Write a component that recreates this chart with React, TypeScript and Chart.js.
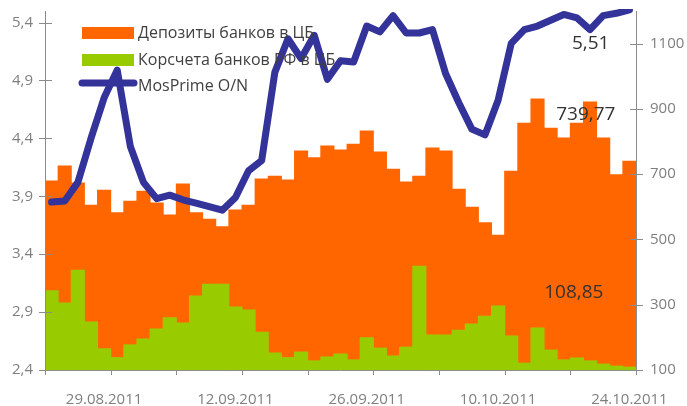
import React, { useEffect, useRef } from 'react';
import { Chart, registerables } from 'chart.js';

Chart.register(...registerables);

// Business days (categories)
const categories: string[] = [
  '23.08.2011', '24.08.2011', '25.08.2011', '26.08.2011', '29.08.2011',
  '30.08.2011', '31.08.2011', '01.09.2011', '02.09.2011', '05.09.2011',
  '06.09.2011', '07.09.2011', '08.09.2011', '09.09.2011', '12.09.2011',
  '13.09.2011', '14.09.2011', '15.09.2011', '16.09.2011', '19.09.2011',
  '20.09.2011', '21.09.2011', '22.09.2011', '23.09.2011', '26.09.2011',
  '27.09.2011', '28.09.2011', '29.09.2011', '30.09.2011', '03.10.2011',
  '04.10.2011', '05.10.2011', '06.10.2011', '07.10.2011', '10.10.2011',
  '11.10.2011', '12.10.2011', '13.10.2011', '14.10.2011', '17.10.2011',
  '18.10.2011', '19.10.2011', '20.10.2011', '21.10.2011', '24.10.2011',
];

const xTickLabels: string[] = ['29.08.2011', '12.09.2011', '26.09.2011', '10.10.2011', '24.10.2011'];

const seriesNames: string[] = ['Депозиты банков в ЦБ', 'Корсчета банков РФ в ЦБ', 'MosPrime O/N'];

// Deposits of banks at the CB (right axis)
const deposits: number[] = [
  679, 725, 673, 605, 651, 582, 617, 648, 612, 575,
  670, 582, 562, 539, 590, 605, 685, 694, 682, 771,
  750, 786, 774, 792, 832, 768, 715, 676, 694, 780,
  771, 654, 599, 551, 513, 709, 856, 930, 841, 811,
  856, 921, 811, 698, 739.77,
];

// Correspondent accounts (right axis)
const corrAccounts: number[] = [
  343, 305, 406, 247, 165, 138, 177, 195, 226, 260,
  244, 327, 363, 363, 293, 284, 216, 152, 138, 155,
  128, 140, 149, 131, 199, 167, 143, 170, 418, 207,
  207, 222, 241, 265, 296, 204, 121, 229, 161, 131,
  137, 128, 118, 112, 108.85,
];

// MosPrime O/N (left axis)
const mosPrime: number[] = [
  3.85, 3.86, 4.02, 4.40, 4.75, 4.99, 4.33, 4.02, 3.88, 3.91,
  3.87, 3.84, 3.81, 3.78, 3.89, 4.12, 4.21, 4.97, 5.26, 5.09,
  5.29, 4.91, 5.07, 5.06, 5.37, 5.32, 5.46, 5.31, 5.31, 5.34,
  4.96, 4.71, 4.48, 4.43, 4.73, 5.22, 5.34, 5.37, 5.42, 5.47,
  5.44, 5.34, 5.46, 5.48, 5.51,
];

const leftTicks: number[] = [2.4, 2.9, 3.4, 3.9, 4.4, 4.9, 5.4];
const rightTicks: number[] = [100, 300, 500, 700, 900, 1100];

const ORANGE = '#FF6600';
const GREEN = '#99CC00';
const NAVY = '#333399';
const AXIS = '#8c8c8c';
const TICK_TEXT = '#7f7f7f';
const FONT = '"Open Sans", "Noto Sans", sans-serif';

const fmt = (v: number, d: number) => v.toFixed(d).replace('.', ',');

const zeroPad = (s: any) => {
  s.paddingTop = 0;
  s.paddingBottom = 0;
  s.paddingLeft = 0;
  s.paddingRight = 0;
};

const decorPlugin = {
  id: 'decor',
  afterDraw(chart: any) {
    const { ctx, chartArea: ca, scales } = chart;
    const xs = scales.x;
    const yl = scales.yL;
    const yr = scales.yR;
    ctx.save();

    // axis lines
    ctx.strokeStyle = AXIS;
    ctx.lineWidth = 1;
    ctx.beginPath();
    ctx.moveTo(Math.round(ca.left) + 0.5, ca.top);
    ctx.lineTo(Math.round(ca.left) + 0.5, ca.bottom + 1);
    ctx.moveTo(Math.round(ca.right) + 0.5, ca.top);
    ctx.lineTo(Math.round(ca.right) + 0.5, ca.bottom + 1);
    ctx.moveTo(ca.left, Math.round(ca.bottom) + 0.5);
    ctx.lineTo(ca.right, Math.round(ca.bottom) + 0.5);
    // left ticks (crossing)
    leftTicks.forEach((v) => {
      const y = Math.round(yl.getPixelForValue(v)) + 0.5;
      ctx.moveTo(ca.left - 6, y);
      ctx.lineTo(ca.left + 7, y);
    });
    rightTicks.forEach((v) => {
      const y = Math.round(yr.getPixelForValue(v)) + 0.5;
      ctx.moveTo(ca.right - 6, y);
      ctx.lineTo(ca.right + 7, y);
    });
    // x ticks at category boundaries, every 5 categories
    const n = categories.length;
    const step = ca.width / n;
    for (let k = 0; k <= n; k += 5) {
      const x = Math.round(ca.left + k * step) + 0.5;
      ctx.moveTo(x, ca.bottom);
      ctx.lineTo(x, ca.bottom + 5);
    }
    ctx.stroke();

    // data labels for last points
    const li = n - 1;
    const xl = xs.getPixelForValue(li);
    ctx.fillStyle = '#333333';
    ctx.font = `19px ${FONT}`;
    ctx.textAlign = 'right';
    ctx.textBaseline = 'middle';
    ctx.fillText(fmt(mosPrime[li], 2), xl - 20, yl.getPixelForValue(mosPrime[li]) + 34);
    ctx.fillText(fmt(deposits[li], 2), xl - 14, yr.getPixelForValue(deposits[li]) - 47);
    ctx.fillText(fmt(corrAccounts[li], 2), xl - 26, yr.getPixelForValue(corrAccounts[li]) - 75);

    // legend
    const lx = 82;
    const rows = [33, 60, 86];
    ctx.fillStyle = ORANGE;
    ctx.fillRect(lx, rows[0] - 6, 52, 12);
    ctx.fillStyle = GREEN;
    ctx.fillRect(lx, rows[1] - 6, 52, 12);
    ctx.strokeStyle = NAVY;
    ctx.lineWidth = 7;
    ctx.lineCap = 'round';
    ctx.beginPath();
    ctx.moveTo(lx, rows[2] - 3);
    ctx.lineTo(lx + 52, rows[2] - 3);
    ctx.stroke();
    ctx.fillStyle = '#404040';
    ctx.font = `16px ${FONT}`;
    ctx.textAlign = 'left';
    ctx.textBaseline = 'middle';
    seriesNames.forEach((name, i) => {
      ctx.fillText(name, 138, rows[i]);
    });
    ctx.restore();
  },
};

export default function App() {
  const ref = useRef<HTMLCanvasElement | null>(null);

  useEffect(() => {
    if (!ref.current) return;
    const tickFont = { family: FONT, size: 15 };
    const chart = new Chart(ref.current, {
      type: 'bar',
      data: {
        labels: categories,
        datasets: [
          {
            type: 'line',
            label: seriesNames[2],
            data: mosPrime,
            yAxisID: 'yL',
            borderColor: NAVY,
            backgroundColor: NAVY,
            borderWidth: 7,
            pointRadius: 0,
            pointHoverRadius: 0,
            tension: 0,
            borderJoinStyle: 'round',
            borderCapStyle: 'round',
            order: 0,
            clip: { left: 10, right: 10, top: 2, bottom: 10 },
          } as any,
          {
            type: 'bar',
            label: seriesNames[1],
            data: corrAccounts,
            yAxisID: 'yR',
            backgroundColor: GREEN,
            grouped: false,
            barPercentage: 1,
            categoryPercentage: 1,
            inflateAmount: 0.5,
            order: 1,
          } as any,
          {
            type: 'bar',
            label: seriesNames[0],
            data: deposits,
            yAxisID: 'yR',
            backgroundColor: ORANGE,
            grouped: false,
            barPercentage: 1,
            categoryPercentage: 1,
            inflateAmount: 0.5,
            order: 2,
          } as any,
        ],
      },
      options: {
        animation: false,
        responsive: false,
        maintainAspectRatio: false,
        layout: { padding: { top: 11, left: 0, right: 0, bottom: 0 } },
        plugins: {
          legend: { display: false },
          tooltip: { enabled: false },
        },
        scales: {
          x: {
            type: 'category',
            offset: true,
            grid: { display: false, drawTicks: false },
            border: { display: false },
            ticks: {
              autoSkip: false,
              maxRotation: 0,
              minRotation: 0,
              padding: 21,
              color: TICK_TEXT,
              font: tickFont,
              callback: (_v: any, idx: number) =>
                xTickLabels.includes(categories[idx]) ? categories[idx] : '',
            },
            afterFit: (s: any) => {
              s.height = 36;
              zeroPad(s);
            },
          },
          yL: {
            position: 'left',
            min: 2.4,
            max: 5.5,
            grid: { display: false, drawTicks: false },
            border: { display: false },
            afterBuildTicks: (s: any) => {
              s.ticks = leftTicks.map((v) => ({ value: v }));
            },
            ticks: {
              padding: 12,
              color: TICK_TEXT,
              font: tickFont,
              callback: (v: any) => fmt(Number(v), 1),
            },
            afterFit: (s: any) => {
              s.width = 45;
              zeroPad(s);
            },
          },
          yR: {
            position: 'right',
            min: 100,
            max: 1200,
            grid: { display: false, drawTicks: false },
            border: { display: false },
            afterBuildTicks: (s: any) => {
              s.ticks = rightTicks.map((v) => ({ value: v }));
            },
            ticks: {
              padding: 14,
              color: TICK_TEXT,
              font: tickFont,
              callback: (v: any) => String(v),
            },
            afterFit: (s: any) => {
              s.width = 51;
              zeroPad(s);
            },
          },
        },
      } as any,
      plugins: [decorPlugin],
    });
    return () => chart.destroy();
  }, []);

  return (
    <div style={{ position: 'absolute', left: 0, top: 0, width: 687, height: 406 }}>
      <canvas ref={ref} width={687} height={406} style={{ display: 'block' }} />
    </div>
  );
}
